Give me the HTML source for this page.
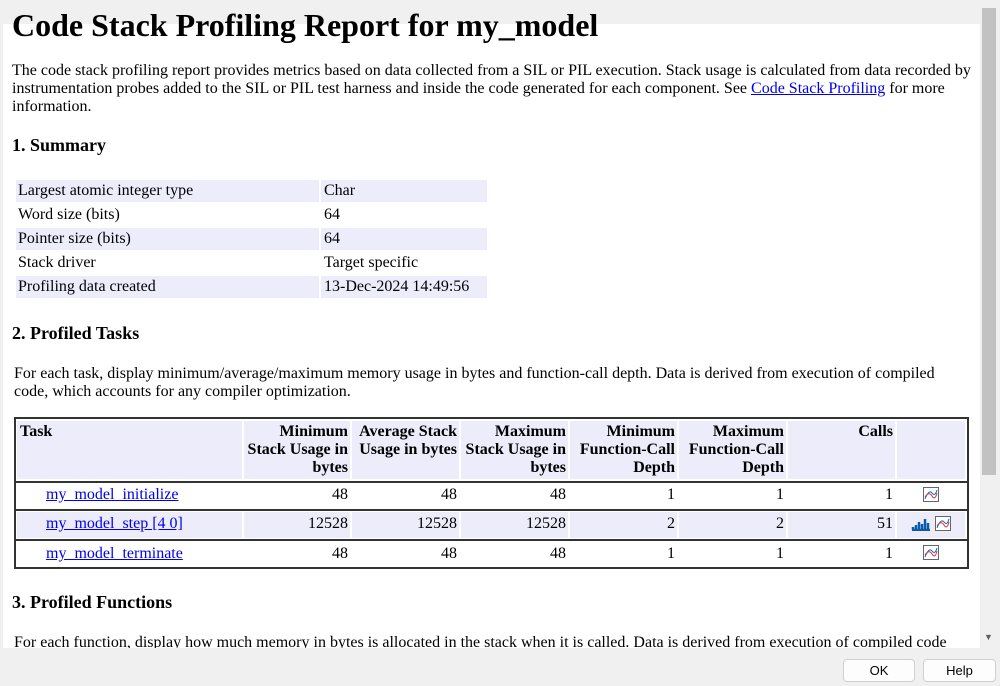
<!DOCTYPE html>
<html><head><meta charset="utf-8"><style>
*{margin:0;padding:0;box-sizing:border-box}
body{width:1000px;height:686px;overflow:hidden;background:#f0f0f0;font-family:"Liberation Serif",serif;color:#000;position:relative}
.a{position:absolute;white-space:nowrap}
.p{font-size:16px;line-height:18px}
.h{font-size:18px;font-weight:bold}
a{color:#0000ee;text-decoration:underline}
.c{position:absolute;background:#ececfb}
.t{position:absolute;font-size:16px;line-height:18px;white-space:nowrap}
.r{text-align:right}
.b{font-weight:bold}
</style></head><body>
<div class="a" style="left:3px;top:24px;width:977px;height:624px;background:#fff"></div>
<div class="a" style="left:12px;top:6px;font-size:32px;font-weight:bold;line-height:38px">Code Stack Profiling Report for my_model</div>
<div class="a p" style="left:12px;top:62px">The code stack profiling report provides metrics based on data collected from a SIL or PIL execution. Stack usage is calculated from data recorded by</div>
<div class="a p" style="left:12px;top:80px">instrumentation probes added to the SIL or PIL test harness and inside the code generated for each component. See <a>Code Stack Profiling</a> for more</div>
<div class="a p" style="left:12px;top:98px">information.</div>
<div class="a h" style="left:12px;top:135px">1. Summary</div>

<div class="c" style="left:16px;top:180px;width:303px;height:22px"></div><div class="c" style="left:321px;top:180px;width:166px;height:22px"></div>
<div class="c" style="left:16px;top:228px;width:303px;height:22px"></div><div class="c" style="left:321px;top:228px;width:166px;height:22px"></div>
<div class="c" style="left:16px;top:276px;width:303px;height:22px"></div><div class="c" style="left:321px;top:276px;width:166px;height:22px"></div>
<div class="t" style="left:18px;top:182px">Largest atomic integer type</div><div class="t" style="left:324px;top:182px">Char</div>
<div class="t" style="left:18px;top:206px">Word size (bits)</div><div class="t" style="left:324px;top:206px">64</div>
<div class="t" style="left:18px;top:230px">Pointer size (bits)</div><div class="t" style="left:324px;top:230px">64</div>
<div class="t" style="left:18px;top:254px">Stack driver</div><div class="t" style="left:324px;top:254px">Target specific</div>
<div class="t" style="left:18px;top:278px">Profiling data created</div><div class="t" style="left:324px;top:278px">13-Dec-2024 14:49:56</div>

<div class="a h" style="left:12px;top:323px">2. Profiled Tasks</div>
<div class="a p" style="left:14px;top:365px">For each task, display minimum/average/maximum memory usage in bytes and function-call depth. Data is derived from execution of compiled</div>
<div class="a p" style="left:14px;top:383px">code, which accounts for any compiler optimization.</div>

<div class="a" style="left:14px;top:417px;width:955px;height:152px;border:2px solid #333"></div>
<div class="a" style="left:16px;top:481px;width:951px;height:2px;background:#333"></div>
<div class="a" style="left:16px;top:509px;width:951px;height:2px;background:#333"></div>
<div class="a" style="left:16px;top:539px;width:951px;height:2px;background:#333"></div>
<div class="c" style="left:17px;top:421px;width:225px;height:58px"></div>
<div class="c" style="left:244px;top:421px;width:106px;height:58px"></div>
<div class="c" style="left:352px;top:421px;width:107px;height:58px"></div>
<div class="c" style="left:461px;top:421px;width:107px;height:58px"></div>
<div class="c" style="left:570px;top:421px;width:107px;height:58px"></div>
<div class="c" style="left:679px;top:421px;width:107px;height:58px"></div>
<div class="c" style="left:788px;top:421px;width:107px;height:58px"></div>
<div class="c" style="left:897px;top:421px;width:68px;height:58px"></div>
<div class="c" style="left:17px;top:512px;width:225px;height:26px"></div>
<div class="c" style="left:244px;top:512px;width:106px;height:26px"></div>
<div class="c" style="left:352px;top:512px;width:107px;height:26px"></div>
<div class="c" style="left:461px;top:512px;width:107px;height:26px"></div>
<div class="c" style="left:570px;top:512px;width:107px;height:26px"></div>
<div class="c" style="left:679px;top:512px;width:107px;height:26px"></div>
<div class="c" style="left:788px;top:512px;width:107px;height:26px"></div>
<div class="c" style="left:897px;top:512px;width:68px;height:26px"></div>

<div class="t b" style="left:20px;top:423px">Task</div>
<div class="t b r" style="left:240px;top:423px;width:108px">Minimum<br>Stack Usage in<br>bytes</div>
<div class="t b r" style="left:348px;top:423px;width:109px">Average Stack<br>Usage in bytes</div>
<div class="t b r" style="left:457px;top:423px;width:109px">Maximum<br>Stack Usage in<br>bytes</div>
<div class="t b r" style="left:566px;top:423px;width:109px">Minimum<br>Function-Call<br>Depth</div>
<div class="t b r" style="left:675px;top:423px;width:109px">Maximum<br>Function-Call<br>Depth</div>
<div class="t b r" style="left:788px;top:423px;width:105px">Calls</div>

<div class="t" style="left:46px;top:486px"><a>my_model_initialize</a></div>
<div class="t" style="left:46px;top:515px"><a>my_model_step [4 0]</a></div>
<div class="t" style="left:46px;top:545px"><a>my_model_terminate</a></div>

<div class="t r" style="left:244px;top:486px;width:104px">48</div><div class="t r" style="left:352px;top:486px;width:105px">48</div><div class="t r" style="left:461px;top:486px;width:105px">48</div><div class="t r" style="left:570px;top:486px;width:105px">1</div><div class="t r" style="left:679px;top:486px;width:105px">1</div><div class="t r" style="left:788px;top:486px;width:105px">1</div>
<div class="t r" style="left:244px;top:515px;width:104px">12528</div><div class="t r" style="left:352px;top:515px;width:105px">12528</div><div class="t r" style="left:461px;top:515px;width:105px">12528</div><div class="t r" style="left:570px;top:515px;width:105px">2</div><div class="t r" style="left:679px;top:515px;width:105px">2</div><div class="t r" style="left:788px;top:515px;width:105px">51</div>
<div class="t r" style="left:244px;top:545px;width:104px">48</div><div class="t r" style="left:352px;top:545px;width:105px">48</div><div class="t r" style="left:461px;top:545px;width:105px">48</div><div class="t r" style="left:570px;top:545px;width:105px">1</div><div class="t r" style="left:679px;top:545px;width:105px">1</div><div class="t r" style="left:788px;top:545px;width:105px">1</div>

<svg class="a" style="left:923px;top:487px" width="16" height="15"><rect x=".5" y=".5" width="15" height="14" fill="#fff" stroke="#666"/><path d="M2 12 Q6 2 9 6 T14 3" stroke="#06c" fill="none"/><path d="M2 10 Q6 4 9 9 T14 6" stroke="#d33" fill="none"/></svg>
<svg class="a" style="left:911px;top:516px" width="20" height="15"><path d="M1 14h18M2 14V11M5 14V9M8 14V6M11 14V8M14 14V3M17 14V7" stroke="#0a5cab" stroke-width="2.5"/></svg>
<svg class="a" style="left:935px;top:516px" width="16" height="15"><rect x=".5" y=".5" width="15" height="14" fill="#fff" stroke="#666"/><path d="M2 12 Q6 2 9 6 T14 3" stroke="#06c" fill="none"/><path d="M2 10 Q6 4 9 9 T14 6" stroke="#d33" fill="none"/></svg>
<svg class="a" style="left:923px;top:545px" width="16" height="15"><rect x=".5" y=".5" width="15" height="14" fill="#fff" stroke="#666"/><path d="M2 12 Q6 2 9 6 T14 3" stroke="#06c" fill="none"/><path d="M2 10 Q6 4 9 9 T14 6" stroke="#d33" fill="none"/></svg>

<div class="a h" style="left:12px;top:592px">3. Profiled Functions</div>
<div class="a p" style="left:14px;top:634px;height:14px;overflow:hidden">For each function, display how much memory in bytes is allocated in the stack when it is called. Data is derived from execution of compiled code</div>
<div class="a" style="left:0;top:648px;width:1000px;height:38px;background:#f0f0f0"></div>

<div class="a" style="left:980px;top:0;width:18px;height:648px;background:#f0f0f0"></div>
<div class="a" style="left:982px;top:8px;width:14px;height:467px;background:#c2c2c2"></div>
<div class="a" style="left:984px;top:632px;font-size:9px;color:#606060">▼</div>

<div class="a" style="left:843px;top:659px;width:72px;height:23px;background:#fdfdfd;border:1px solid #d0d0d0;border-radius:4px;font-family:'Liberation Sans',sans-serif;font-size:13px;text-align:center;line-height:21px">OK</div>
<div class="a" style="left:923px;top:659px;width:73px;height:23px;background:#fdfdfd;border:1px solid #d0d0d0;border-radius:4px;font-family:'Liberation Sans',sans-serif;font-size:13px;text-align:center;line-height:21px">Help</div>
</body></html>
